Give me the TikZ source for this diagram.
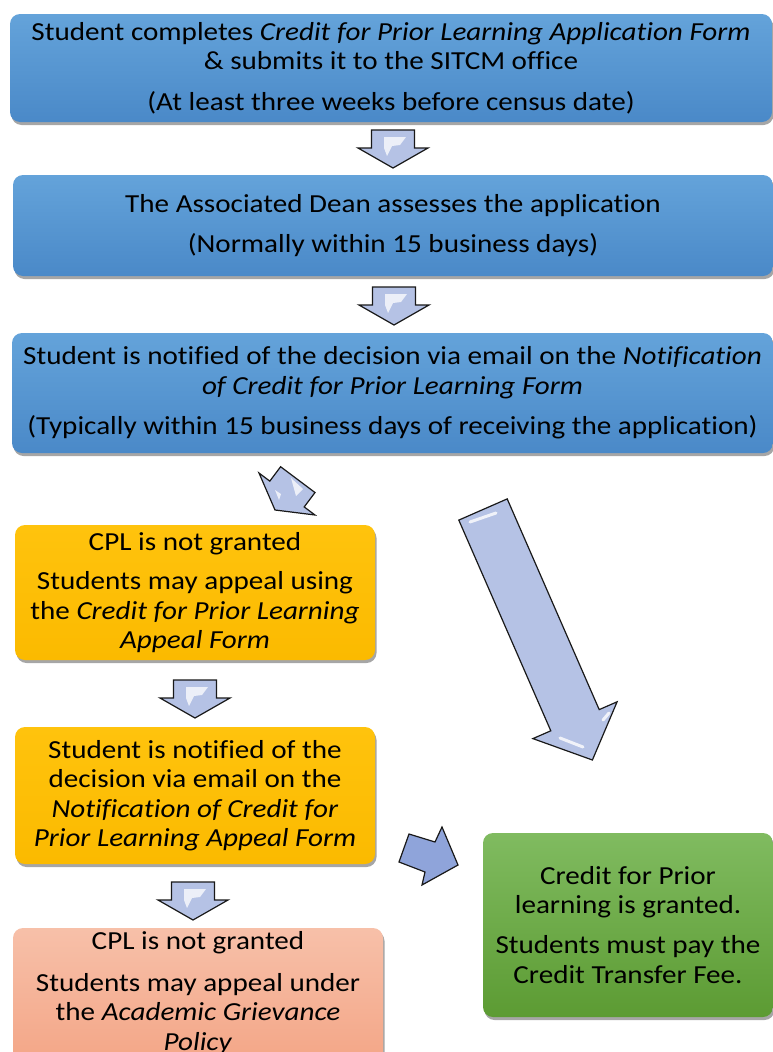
\documentclass[tikz,border=0pt]{standalone}
\usepackage{fontspec}
\setmainfont{Carlito}[FakeStretch=1.12, Ligatures=NoCommon]
\usetikzlibrary{shadows}
\definecolor{blueT}{HTML}{64A3DA}
\definecolor{blueB}{HTML}{4A89C8}
\definecolor{yelT}{HTML}{FFC30D}
\definecolor{yelB}{HTML}{FBBA00}
\definecolor{salT}{HTML}{F7C0A9}
\definecolor{salB}{HTML}{F3A383}
\definecolor{grnT}{HTML}{80BB60}
\definecolor{grnB}{HTML}{5C9B33}
\definecolor{arrL}{HTML}{B5C2E5}
\definecolor{arrD}{HTML}{8FA4DA}
\newcommand\bodyfont{\fontsize{26}{29.5}\selectfont}
\tikzset{
  box/.style={rectangle, rounded corners=10pt, inner sep=0pt, align=center,
    font=\bodyfont, text=black,
    drop shadow={shadow xshift=1.5pt, shadow yshift=-3pt, opacity=0.35, fill=black}},
  bluebox/.style={box, top color=blueT, bottom color=blueB},
  yelbox/.style={box, top color=yelT, bottom color=yelB},
  salbox/.style={box, top color=salT, bottom color=salB},
  grnbox/.style={box, top color=grnT, bottom color=grnB},
  txt/.style={inner sep=0pt, align=center, font=\bodyfont, text=black},
  arr/.style={draw=black!90, line width=1.2pt, fill=arrL, line join=miter},
  shine/.style={fill=white, opacity=0.75, draw=none},
  streak/.style={draw=white, opacity=0.8, line width=3pt, line cap=round},
  downarr/.pic={
    \draw[arr] (-21.5,0) -- (21.5,0) -- (21.5,18) -- (35,18) -- (0,38) -- (-35,18) -- (-21.5,18) -- cycle;
    \fill[shine] (-9,7) -- (13,7) -- (7,15) -- (-1,16) -- (-6,26) -- (-9,18) -- cycle;
  }
}
\begin{document}
\begin{tikzpicture}[x=1pt, y=-1pt]
\useasboundingbox (0,0) rectangle (773,1052);
\clip (0,0) rectangle (773,1052);

% boxes
\node[bluebox, minimum width=762pt, minimum height=108pt] (b1) at (391,68)
  {Student completes \textit{Credit for Prior Learning Application Form}\\
   \& submits it to the SITCM office\\[11pt]
   (At least three weeks before census date)};
\node[bluebox, minimum width=760pt, minimum height=101pt] (b2) at (393,225.5)
  {The Associated Dean assesses the application\\[11pt]
   (Normally within 15 business days)};
\node[bluebox, minimum width=761pt, minimum height=120pt] (b3) at (392.5,393)
  {Student is notified of the decision via email on the \textit{Notification}\\
   \textit{of Credit for Prior Learning Form}\\[11pt]
   (Typically within 15 business days of receiving the application)};
\node[yelbox, minimum width=360pt, minimum height=135pt] (y1) at (195,592.5)
  {CPL is not granted\\[10pt]
   Students may appeal using\\
   the \textit{Credit for Prior Learning}\\
   \textit{Appeal Form}};
\node[yelbox, minimum width=360pt, minimum height=137pt] (y2) at (195,795.5)
  {Student is notified of the\\
   decision via email on the\\
   \textit{Notification of Credit for}\\
   \textit{Prior Learning Appeal Form}};
\node[salbox, minimum width=370pt, minimum height=150pt] (s1) at (198,1003) {};
\node[txt] (s1t) at (198,993)
  {CPL is not granted\\[12pt]
   Students may appeal under\\
   the \textit{Academic Grievance}\\
   \textit{Policy}};
\node[grnbox, minimum width=290pt, minimum height=184pt] (g1) at (628,925)
  {Credit for Prior\\
   learning is granted.\\[10.5pt]
   Students must pay the\\
   Credit Transfer Fee.};

% down arrows
\pic (a1) at (393,130) {downarr};
\pic (a2) at (394,287) {downarr};
\pic (a3) at (195,680) {downarr};
\pic (a4) at (193,882) {downarr};

% small arrow pointing down-left
\draw[arr] (280.6,466.7) -- (315,492.5) -- (304.2,506.9) -- (315,515) -- (275,510)
  -- (259,473) -- (269.8,481.1) -- cycle;
\fill[shine] (291,478) -- (303,489) -- (296,496) -- cycle;
\fill[shine] (275,490) -- (281,494) -- (279,500) -- cycle;

% large arrow
\draw[arr] (458.8,520.1) -- (507.2,498.9) -- (599.2,709.6) -- (617.1,701.8)
  -- (592.4,760) -- (532.9,738.6) -- (550.8,730.8) -- cycle;
\draw[streak] (470,522) -- (496,513);
\draw[streak] (560,738) -- (583,747);
\draw[streak] (603,720) -- (609,713);

% arrow toward green box
\draw[arr, fill=arrD] (409,834) -- (435,842) -- (442,827) -- (458,865) -- (422,885)
  -- (425,872) -- (399,862) -- cycle;
\end{tikzpicture}
\end{document}
